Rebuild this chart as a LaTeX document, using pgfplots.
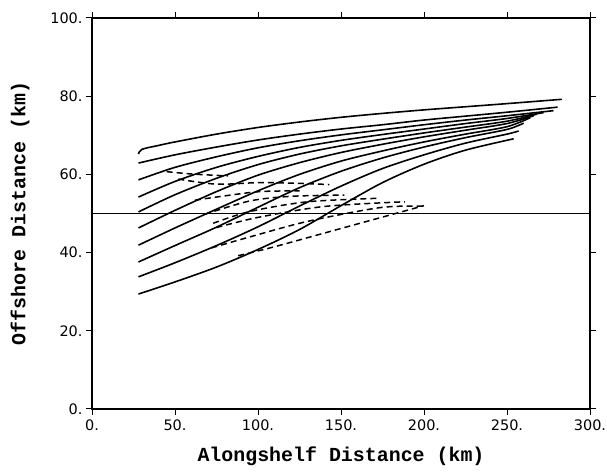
\documentclass[border=0pt]{standalone}
\usepackage{fontspec}
\setmainfont{Liberation Sans}
\newfontfamily\labfont{Liberation Mono}
\newfontfamily\tickfont{DejaVu Sans}
\usepackage{pgfplots}
\pgfplotsset{compat=1.18}
\begin{document}
\begin{tikzpicture}[x=1bp,y=1bp]
\useasboundingbox (-92,-63) rectangle (515,409);
\begin{axis}[
  scale only axis, width=498bp, height=391bp,
  xmin=0, xmax=300, ymin=0, ymax=100,
  xtick={0,50,...,300}, ytick={0,20,...,100},
  xticklabels={0.,50.,100.,150.,200.,250.,300.},
  yticklabels={0.,20.,40.,60.,80.,100.},
  tick align=outside, major tick length=6bp,
  tick style={black, line width=1pt},
  axis line style={line width=1.3pt},
  ticklabel style={font=\tickfont\fontsize{14.5}{17}\selectfont},
  xticklabel style={yshift=-1bp},
  xlabel={Alongshelf Distance (km)},
  ylabel={Offshore Distance (km)},
  label style={font=\labfont\bfseries\fontsize{20}{24}\selectfont},
  xlabel style={at={(axis description cs:0.5,-0.1355)}, anchor=base},
  ylabel style={at={(axis description cs:-0.1446,0.5)}, anchor=center},
  cycle list={{black,solid}},
  every axis plot/.append style={black, line width=1.6pt, smooth, tension=0.5, no marks},
  dsh/.style={black, line width=1.5pt, dash pattern=on 6bp off 4bp},
  clip=false,
]
% horizontal reference line
\addplot[black, solid, sharp plot, line width=1.3pt] coordinates {(0,50) (300,50)};
% solid curves
\addplot coordinates {(28,65.2) (30,66.4) (40,67.4) (50,68.3) (75,70.3) (100,72.0) (125,73.4) (150,74.6) (175,75.6) (200,76.5) (225,77.3) (250,78.1) (283,79.2)};
\addplot coordinates {(28,62.9) (50,65.0) (75,67.0) (100,68.8) (125,70.3) (150,71.6) (175,72.7) (200,73.9) (225,74.9) (250,75.9) (280.5,77.2)};
\addplot coordinates {(28,58.6) (50,61.8) (75,64.5) (100,66.8) (125,68.6) (150,70.1) (175,71.4) (200,72.7) (225,73.9) (250,75.0) (278,76.3)};
\addplot coordinates {(28,54.2) (50,58.2) (75,61.8) (100,64.6) (125,66.9) (150,68.7) (175,70.2) (200,71.6) (225,73.0) (250,74.3) (272,75.8)};
\addplot coordinates {(28,50.4) (50,54.8) (75,59.0) (100,62.5) (125,65.2) (150,67.3) (175,69.0) (200,70.6) (225,72.1) (250,73.6) (268,75.4)};
\addplot coordinates {(28,46.3) (50,50.8) (75,55.6) (100,59.8) (125,63.0) (150,65.6) (175,67.7) (200,69.6) (225,71.3) (250,73.0) (266,75.0)};
\addplot coordinates {(28,41.9) (50,46.3) (75,51.1) (100,55.8) (125,60.0) (150,63.4) (175,66.0) (200,68.3) (225,70.3) (250,72.2) (264,74.5)};
\addplot coordinates {(28,37.6) (50,41.8) (75,46.5) (100,51.6) (125,56.6) (150,60.8) (175,64.2) (200,67.0) (225,69.4) (250,71.5) (260,73.1)};
\addplot coordinates {(28,33.8) (50,37.4) (75,41.8) (100,46.6) (125,51.9) (150,57.0) (175,61.5) (200,65.0) (225,68.0) (250,70.3) (257,71.1)};
\addplot coordinates {(28,29.4) (50,32.5) (75,36.3) (100,40.8) (125,45.9) (150,52.0) (175,57.9) (200,62.6) (225,66.2) (254,69.1)};
% dashed curves
\addplot[dsh] coordinates {(45,60.7) (60,60.1) (82,59.6)};
\addplot[dsh] coordinates {(52,58.8) (75,57.5) (101,57.9) (125,57.7) (143,57.4)};
\addplot[dsh] coordinates {(62,53.4) (80,54.5) (101,55.6) (125,55.8)};
\addplot[dsh] coordinates {(68,49.8) (95,53.2) (120,54.4) (152,54.7)};
\addplot[dsh] coordinates {(73,47.5) (95,50.5) (130,53.0) (173.5,53.9)};
\addplot[dsh] coordinates {(75,46.4) (100,49.0) (140,51.8) (188.5,53.0)};
\addplot[dsh] coordinates {(72,41.2) (95,44.0) (130,48.0) (173.5,51.5) (199,51.9)};
\addplot[dsh] coordinates {(88,39.2) (110,41.5) (140,45.0) (170,48.5) (200,52.0)};
\end{axis}
\end{tikzpicture}
\end{document}
